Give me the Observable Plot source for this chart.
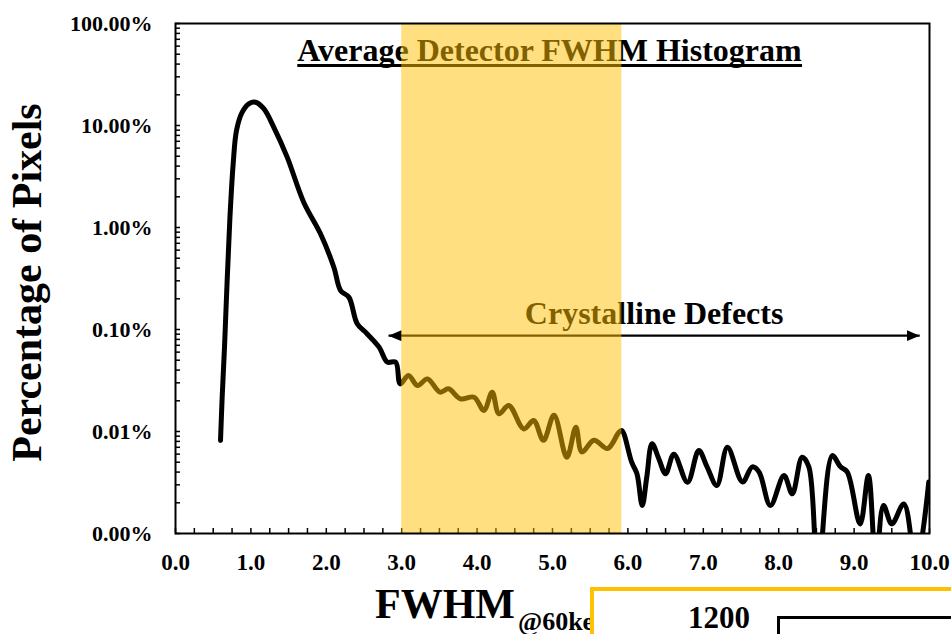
<!DOCTYPE html>
<html><head><meta charset="utf-8">
<script src="https://cdn.jsdelivr.net/npm/d3@7"></script>
<script src="https://cdn.jsdelivr.net/npm/@observablehq/plot@0.6"></script>
<style>
html,body{margin:0;padding:0;background:#fff;}
#chart{position:relative;width:951px;height:634px;overflow:hidden;}
</style></head><body><div id="chart"></div>
<script>
// ---- data ----
const fwhm = [0.597,0.619,0.650,0.685,0.720,0.765,0.809,0.885,0.972,1.061,1.171,1.304,1.481,1.700,1.923,2.100,2.190,2.300,2.410,2.540,2.700,2.810,2.920,2.980,
  3.09,3.21,3.34,3.51,3.62,3.78,3.96,4.09,4.20,4.29,4.42,4.62,4.75,4.88,5.02,5.19,5.31,5.39,5.55,5.73,5.88,5.92,
  6.05,6.12,6.19,6.25,6.32,6.41,6.50,6.61,6.79,6.94,7.05,7.18,7.32,7.52,7.65,7.74,7.89,8.07,8.18,8.31,8.40,8.52,8.71,8.82,8.91,9.08,9.19,9.29,9.39,9.50,9.66,9.82,9.99];
const pct = [0.00816,0.0217,0.0671,0.302,1.17,4.21,8.93,13.5,16.3,16.9,14.6,9.6,4.9,1.77,0.867,0.408,0.241,0.207,0.114,0.091,0.0671,0.0479,0.0479,0.0293,
  0.0354,0.0282,0.0328,0.0243,0.0262,0.0209,0.0217,0.0161,0.0243,0.0149,0.0180,0.0106,0.0128,0.0082,0.0144,0.0056,0.0110,0.0063,0.0082,0.0068,0.0098,0.0102,
  0.0050,0.00385,0.00188,0.00356,0.0076,0.0054,0.00385,0.0060,0.00318,0.0065,0.0045,0.00296,0.0070,0.0032,0.0045,0.0040,0.00188,0.0037,0.00245,0.0056,0.0045,0.0004,0.0058,0.0045,0.0040,0.00124,0.0037,0.0005,0.00188,0.00124,0.00195,0.0005,0.0032];
const xTickValues = [0,1,2,3,4,5,6,7,8,9,10];
const xTickLabels = ["0.0","1.0","2.0","3.0","4.0","5.0","6.0","7.0","8.0","9.0","10.0"];
const yTickValues = [0.001,0.01,0.1,1,10,100];
const yTickLabels = ["0.00%","0.01%","0.10%","1.00%","10.00%","100.00%"];
const title = "Average Detector FWHM Histogram";
const yLabel = "Percentage of Pixels";
const xLabel = "FWHM";
const xLabelSub = "@60keV";
const bandRange = [3.0, 5.92];
const arrowRange = [2.825, 9.87];
const arrowLevel = 0.087;
const arrowLabel = "Crystalline Defects";
const insetLabel = "1200";

const series = fwhm.map((v, i) => ({fwhm: v, pct: pct[i]}));
const xMinor = d3.range(0, 10.001, 0.25);
const yMinor = [];
for (const d of [0.001, 0.01, 0.1, 1, 10]) for (let k = 1; k <= 9; k++) yMinor.push(d * k);
yMinor.push(100);

const FONT = "'Liberation Serif', 'Times New Roman', serif";

const plot = Plot.plot({
  width: 951, height: 634,
  marginLeft: 175, marginRight: 22, marginTop: 23, marginBottom: 101,
  style: {fontFamily: FONT, fontWeight: "bold", background: "white", color: "black"},
  x: {domain: [0, 10], axis: null},
  y: {type: "log", domain: [0.001, 100], axis: null},
  marks: [
    Plot.tickX(xMinor, {x: d => d, insetTop: 505, stroke: "black", strokeWidth: 1.5}),
    Plot.tickY(yMinor, {y: d => d, insetRight: 749, stroke: "black", strokeWidth: 1.5}),
    Plot.text(xTickValues, {x: d => d, frameAnchor: "bottom", lineAnchor: "top", dy: 20.5, text: (d, i) => xTickLabels[i], fontSize: 23, fontWeight: "bold", fill: "black"}),
    Plot.text(yTickValues, {y: d => d, frameAnchor: "left", textAnchor: "end", lineAnchor: "middle", dx: -23, text: (d, i) => yTickLabels[i], fontSize: 22, fontWeight: "bold", fill: "black"}),
    Plot.text([yLabel], {frameAnchor: "left", rotate: -90, textAnchor: "middle", lineAnchor: "middle", dx: -148, dy: 4, text: d => d, fontSize: 42, fontWeight: "bold", fill: "black"}),
    Plot.line(series, {x: "fwhm", y: "pct", curve: "catmull-rom", stroke: "black", strokeWidth: 5, strokeLinejoin: "round", strokeLinecap: "round", clip: true}),
    Plot.text([title], {frameAnchor: "top", lineAnchor: "middle", textAnchor: "middle", dy: 26.8, dx: -3, text: d => d, fontSize: 32, fontWeight: "bold", fill: "black"}),
    Plot.link([{x1: arrowRange[0], x2: arrowRange[1], y: arrowLevel}], {x1: "x1", x2: "x2", y1: "y", y2: "y", stroke: "black", strokeWidth: 2.4}),
    Plot.text([{x: (arrowRange[0] + arrowRange[1]) / 2, y: arrowLevel, t: arrowLabel}], {x: "x", y: "y", text: "t", lineAnchor: "middle", dy: -22, fontSize: 32, fontWeight: "bold", fill: "black"}),
    Plot.rect([{x1: bandRange[0], x2: bandRange[1]}], {x1: "x1", x2: "x2", fill: "#FFC000", fillOpacity: 0.5}),
    Plot.frame({stroke: "black", strokeWidth: 2})
  ]
});
document.getElementById("chart").appendChild(plot);

const svg = d3.select(plot);
// arrowheads
const defs = svg.append("defs");
defs.append("marker").attr("id", "ahead").attr("viewBox", "0 0 13 11").attr("refX", 13).attr("refY", 5.5)
  .attr("markerWidth", 13).attr("markerHeight", 11).attr("markerUnits", "userSpaceOnUse").attr("orient", "auto-start-reverse")
  .append("path").attr("d", "M0,0L13,5.5L0,11Z").attr("fill", "black");
svg.selectAll('g[aria-label="link"] path').attr("marker-start", "url(#ahead)").attr("marker-end", "url(#ahead)");

// title underline (placed in the title's own group & transform so the band still covers it)
svg.selectAll("text").filter(function() { return this.textContent === title; }).each(function() {
  const b = this.getBBox();
  const tr = this.getAttribute("transform");
  const uy = b.y + b.height * 0.94;
  const ln = d3.select(this.parentNode).append("line")
    .attr("x1", b.x).attr("x2", b.x + b.width)
    .attr("y1", uy).attr("y2", uy)
    .attr("stroke", "black").attr("stroke-width", 3);
  if (tr) ln.attr("transform", tr);
});

// x-axis label with subscript
const xl = svg.append("text").attr("x", 375).attr("y", 618).attr("text-anchor", "start")
  .attr("font-size", 42).attr("font-weight", "bold").attr("fill", "black");
xl.append("tspan").text(xLabel);
xl.append("tspan").attr("font-size", 26).attr("dy", 12).attr("dx", 3).text(xLabelSub);

// inset panel overlapping the bottom-right corner
svg.append("rect").attr("x", 592).attr("y", 589).attr("width", 400).attr("height", 100)
  .attr("fill", "white").attr("stroke", "#FFC000").attr("stroke-width", 4);
svg.append("text").attr("x", 719).attr("y", 628).attr("text-anchor", "middle")
  .attr("font-size", 31).attr("font-weight", "bold").attr("fill", "black").text(insetLabel);
svg.append("path").attr("d", "M778.5,650V617.5H960").attr("fill", "none").attr("stroke", "black").attr("stroke-width", 3);
</script></body></html>
